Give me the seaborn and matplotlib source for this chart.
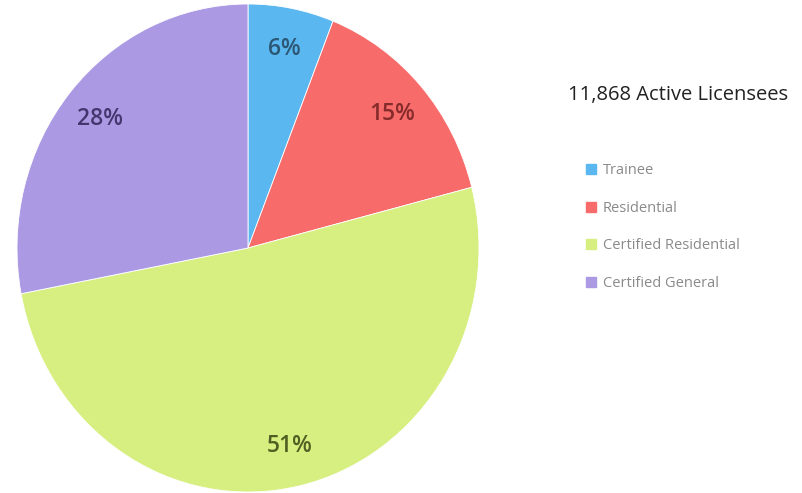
import matplotlib
matplotlib.use('Agg')
import matplotlib.pyplot as plt
import matplotlib.patches as mpatches
import seaborn as sns

categories = ['Trainee', 'Residential', 'Certified Residential', 'Certified General']
shares = [6, 15, 51, 28]
title = '11,868 Active Licensees'

colors = ['#5bb7f0', '#f76b6b', '#d6ef80', '#ab9ae3']
label_colors = ['#2b5775', '#862b2b', '#4f5e22', '#45366f']

sns.set_style('white')
plt.rcParams['font.family'] = ['Open Sans', 'DejaVu Sans']

fig = plt.figure(figsize=(8.03, 4.93), dpi=100)
# the source pie is a little taller than wide
ax = fig.add_axes([17 / 803, 1 / 493, 462 / 803, 488 / 493])

wedges, texts, autotexts = ax.pie(
    shares, colors=colors, startangle=90, counterclock=False,
    autopct='%d%%', pctdistance=0.83,
    wedgeprops=dict(linewidth=0.6, edgecolor='white'),
    textprops=dict(fontsize=16.5, fontweight='semibold'))
for t, c in zip(autotexts, label_colors):
    t.set_color(c)
ax.set_xlim(-1.0, 1.0)
ax.set_ylim(-1.0, 1.0)
ax.set_aspect('auto')

fig.text(568 / 803, 1 - 95 / 493, title, fontsize=14.5, color='#222222',
         va='center', ha='left', fontweight='medium')

handles = [mpatches.Patch(color=c, label=l) for c, l in zip(colors, categories)]
leg = fig.legend(handles=handles, loc='upper left',
                 bbox_to_anchor=(573 / 803, 1 - 150 / 493),
                 frameon=False, fontsize=10.5, handlelength=0.7,
                 handleheight=0.7, handletextpad=0.45, labelspacing=1.55)
for t in leg.get_texts():
    t.set_color('#8a8a8a')

fig.savefig('out.png', dpi=100)
